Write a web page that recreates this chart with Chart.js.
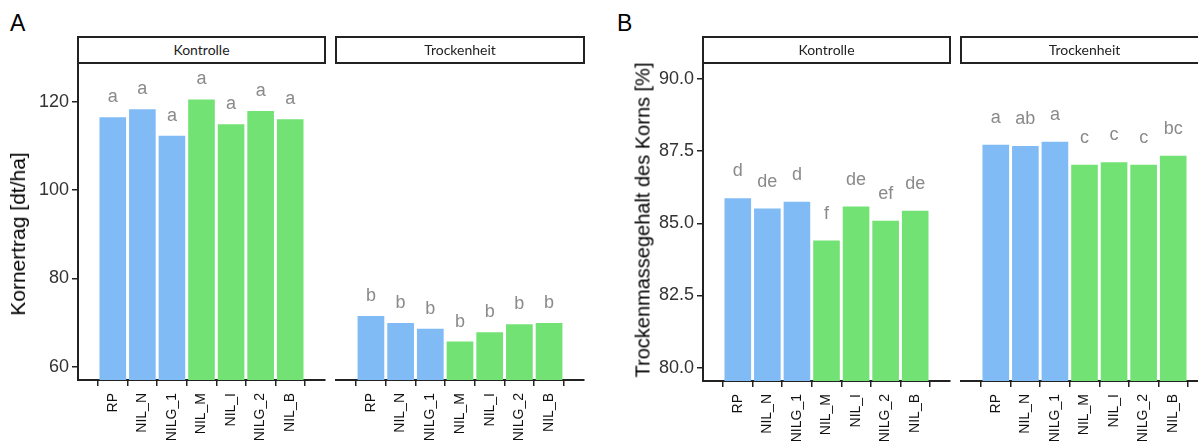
<!DOCTYPE html>
<html>
<head>
<meta charset="utf-8">
<script src="https://cdn.jsdelivr.net/npm/chart.js@4.4.1/dist/chart.umd.min.js"></script>
<style>
  html, body { margin: 0; padding: 0; background: #fff; }
  body { width: 1198px; height: 445px; position: relative; overflow: hidden; font-family: "Liberation Sans", Arial, sans-serif; }
  .box { position: absolute; }
  .panel-tag { position: absolute; font-size: 23px; line-height: 23px; color: #000; }
  .strip { position: absolute; top: 36px; height: 28px; box-sizing: border-box; border: 2px solid #222; background: #fff;
           font-family: Lato, "Open Sans", sans-serif; font-size: 14px; color: #222; text-align: center; line-height: 24px; }
  .ytitle { position: absolute; transform: translate(-50%, -50%) rotate(-90deg); white-space: nowrap; font-size: 20px; color: #000; }
</style>
</head>
<body>
<div class="panel-tag" style="left:10px; top:12px;">A</div>
<div class="panel-tag" style="left:617px; top:12px;">B</div>

<div class="box" style="left:0; top:0;"><canvas id="aK" width="330" height="445"></canvas></div>
<div class="box" style="left:330px; top:0;"><canvas id="aT" width="260" height="445"></canvas></div>
<div class="box" style="left:600px; top:0;"><canvas id="bK" width="355" height="445"></canvas></div>
<div class="box" style="left:955px; top:0;"><canvas id="bT" width="260" height="445"></canvas></div>

<div class="strip" style="left:77px; width:249px;">Kontrolle</div>
<div class="strip" style="left:335px; width:250px;">Trockenheit</div>
<div class="strip" style="left:702px; width:249px;">Kontrolle</div>
<div class="strip" style="left:960px; width:249px;">Trockenheit</div>

<div class="ytitle" style="left:18px; top:234px; font-size:21px;">Kornertrag [dt/ha]</div>
<div class="ytitle" style="left:643px; top:220px;">Trockenmassegehalt des Korns [%]</div>

<script>
const categories = ['RP', 'NIL_N', 'NILG_1', 'NIL_M', 'NIL_I', 'NILG_2', 'NIL_B'];
const barGroup = [0, 0, 0, 1, 1, 1, 1]; // blue = RP, NIL_N, NILG_1; green = rest
const groupColors = ['#80BBF5', '#72E274'];

// A: Kornertrag [dt/ha]
const yieldKontrolle = [116.5, 118.3, 112.3, 120.5, 114.9, 117.9, 116.0];
const yieldTrocken = [71.5, 69.9, 68.6, 65.7, 67.8, 69.6, 69.9];
const yieldLettersK = ['a', 'a', 'a', 'a', 'a', 'a', 'a'];
const yieldLettersT = ['b', 'b', 'b', 'b', 'b', 'b', 'b'];
const yieldTicks = [60, 80, 100, 120];

// B: Trockenmassegehalt des Korns [%]
const dmKontrolle = [85.87, 85.51, 85.75, 84.40, 85.58, 85.09, 85.43];
const dmTrocken = [87.72, 87.68, 87.82, 87.03, 87.11, 87.03, 87.34];
const dmLettersK = ['d', 'de', 'd', 'f', 'de', 'ef', 'de'];
const dmLettersT = ['a', 'ab', 'a', 'c', 'c', 'c', 'bc'];
const dmTicks = [80.0, 82.5, 85.0, 87.5, 90.0];

// draws the significance letters above each bar
const sigLetters = {
    id: 'sigLetters',
    afterDatasetsDraw(chart, args, opts) {
        const ctx = chart.ctx;
        const meta = chart.getDatasetMeta(0);
        ctx.save();
        ctx.font = '18px "Liberation Sans", Arial, sans-serif';
        ctx.fillStyle = '#8a8a8a';
        ctx.textAlign = 'center';
        ctx.textBaseline = 'alphabetic';
        meta.data.forEach((bar, i) => {
            ctx.fillText(opts.letters[i], bar.x, bar.y - opts.gap);
        });
        ctx.restore();
    }
};

const axisColor = '#222';

function makeChart(id, values, letters, cfg) {
    const ctx = document.getElementById(id).getContext('2d');
    return new Chart(ctx, {
        type: 'bar',
        data: {
            datasets: [{
                data: categories.map((c, i) => ({ x: i, y: values[i] })),
                backgroundColor: barGroup.map(g => groupColors[g]),
                barPercentage: 0.9,
                categoryPercentage: 1,
                base: cfg.yMin
            }]
        },
        plugins: [sigLetters],
        options: {
            responsive: false,
            animation: false,
            events: [],
            layout: { padding: cfg.padding },
            plugins: {
                legend: { display: false },
                tooltip: { enabled: false },
                sigLetters: { letters: letters, gap: cfg.gap }
            },
            scales: {
                x: {
                    type: 'linear',
                    min: -0.58,
                    max: 6.58,
                    afterBuildTicks: ax => { ax.ticks = categories.map((c, i) => ({ value: i })); },
                    afterFit: ax => { ax.height = cfg.xHeight; },
                    ticks: {
                        autoSkip: false,
                        maxRotation: 90,
                        minRotation: 90,
                        padding: 7,
                        color: '#111',
                        font: { family: '"Liberation Sans", Arial, sans-serif', size: 14 },
                        callback: v => categories[v]
                    },
                    grid: { drawOnChartArea: false, drawTicks: true, tickLength: 6, color: axisColor, lineWidth: 1.5 },
                    border: { display: true, color: axisColor, width: 2 }
                },
                y: {
                    display: cfg.showY,
                    min: cfg.yMin,
                    max: cfg.yMax,
                    afterBuildTicks: ax => { ax.ticks = cfg.ticks.map(v => ({ value: v })); },
                    afterFit: ax => { ax.width = cfg.yWidth; },
                    ticks: {
                        padding: 3,
                        color: '#333',
                        font: { family: '"Liberation Sans", Arial, sans-serif', size: 18 },
                        callback: v => cfg.decimals ? v.toFixed(cfg.decimals) : v
                    },
                    grid: { drawOnChartArea: false, drawTicks: true, tickLength: 6, color: axisColor, lineWidth: 1.5 },
                    border: { display: true, color: axisColor, width: 2 }
                }
            }
        }
    });
}

const yieldScale = { yMin: 57.0, yMax: 128.3, ticks: yieldTicks, decimals: 0, gap: 15, xHeight: 65 };
const dmScale = { yMin: 79.54, yMax: 90.48, ticks: dmTicks, decimals: 1, gap: 22, xHeight: 64 };

makeChart('aK', yieldKontrolle, yieldLettersK,
    { ...yieldScale, showY: true, yWidth: 78, padding: { left: 0, top: 65, right: 5, bottom: 0 } });
makeChart('aT', yieldTrocken, yieldLettersT,
    { ...yieldScale, showY: false, yWidth: 0, padding: { left: 6, top: 65, right: 6, bottom: 0 } });
makeChart('bK', dmKontrolle, dmLettersK,
    { ...dmScale, showY: true, yWidth: 103, padding: { left: 0, top: 65, right: 5, bottom: 0 } });
makeChart('bT', dmTrocken, dmLettersT,
    { ...dmScale, showY: false, yWidth: 0, padding: { left: 6, top: 65, right: 7, bottom: 0 } });
</script>
</body>
</html>
